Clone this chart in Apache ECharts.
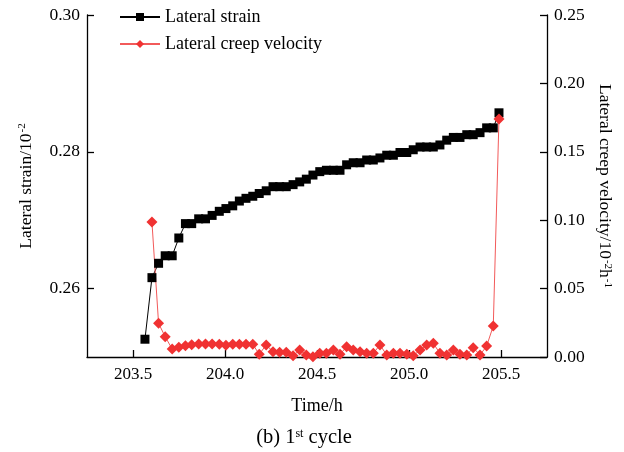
<!DOCTYPE html>
<html>
<head>
<meta charset="utf-8">
<script src="https://cdn.jsdelivr.net/npm/echarts@6/dist/echarts.min.js"></script>
<style>
  html, body { margin: 0; padding: 0; background: #fff; }
  #chart { width: 624px; height: 452px; }
</style>
</head>
<body>
<div id="chart"></div>
<script>
// Sampling times (h) of the 1st loading cycle
const timeH = [
  203.565, 203.603, 203.639, 203.675, 203.713, 203.749, 203.785, 203.819, 203.857, 203.894,
  203.930, 203.969, 204.005, 204.042, 204.078, 204.114, 204.151, 204.186, 204.224, 204.261,
  204.297, 204.333, 204.370, 204.406, 204.442, 204.478, 204.515, 204.551, 204.589, 204.625,
  204.661, 204.697, 204.734, 204.770, 204.806, 204.842, 204.879, 204.915, 204.951, 204.988,
  205.023, 205.060, 205.096, 205.132, 205.168, 205.205, 205.241, 205.277, 205.314, 205.349,
  205.386, 205.422, 205.458, 205.489
];

// Lateral strain (10^-2)
const lateralStrain = [
  0.2526, 0.2616, 0.2637, 0.2648, 0.2648, 0.2674, 0.2695, 0.2695, 0.2702, 0.2702,
  0.2707, 0.2713, 0.2717, 0.2721, 0.2728, 0.2732, 0.2735, 0.2739, 0.2743, 0.2749,
  0.2749, 0.2749, 0.2752, 0.2756, 0.2760, 0.2766, 0.2771, 0.2773, 0.2773, 0.2773,
  0.2781, 0.2784, 0.2784, 0.2788, 0.2788, 0.2791, 0.2795, 0.2795, 0.2799, 0.2799,
  0.2803, 0.2807, 0.2807, 0.2807, 0.2810, 0.2817, 0.2821, 0.2821, 0.2825, 0.2825,
  0.2828, 0.2835, 0.2835, 0.2857
];

// Lateral creep velocity (10^-2 h^-1), starting at the second sample
const creepVelocity = [
  0.0987, 0.0246, 0.0148, 0.0058, 0.0071, 0.0083, 0.0090, 0.0095, 0.0095, 0.0095,
  0.0093, 0.0086, 0.0093, 0.0093, 0.0093, 0.0093, 0.0020, 0.0088, 0.0039, 0.0034,
  0.0034, 0.0010, 0.0051, 0.0015, 0.0002, 0.0027, 0.0027, 0.0051, 0.0020, 0.0075,
  0.0051, 0.0039, 0.0027, 0.0027, 0.0088, 0.0015, 0.0027, 0.0027, 0.0020, 0.0010,
  0.0051, 0.0088, 0.0100, 0.0027, 0.0015, 0.0051, 0.0020, 0.0015, 0.0068, 0.0015,
  0.0080, 0.0227, 0.1740
];

const timeTicks = [203.5, 204.0, 204.5, 205.0, 205.5];
const strainTicks = [0.26, 0.28, 0.30];

const FONT = '"Liberation Serif", "Times New Roman", serif';
const supStyle = { fontFamily: FONT, fontSize: 11, color: '#000', verticalAlign: 'top', padding: [0, 0, 0, 1] };

const strainPairs = timeH.map((t, i) => [t, lateralStrain[i]]);
const velocityPairs = creepVelocity.map((v, i) => [timeH[i + 1], v]);

const chart = echarts.init(document.getElementById('chart'), null, { renderer: 'canvas' });

const axisLineStyle = { show: true, lineStyle: { color: '#000', width: 1.3 } };
const tickStyle = { show: true, inside: true, length: 7, lineStyle: { color: '#000', width: 1.3 } };

chart.setOption({
  animation: false,
  backgroundColor: '#fff',
  grid: { left: 87, right: 77, top: 15, bottom: 95 },
  legend: {
    orient: 'vertical',
    left: 114,
    top: 3,
    itemWidth: 40,
    itemHeight: 10,
    itemGap: 9,
    textStyle: { fontFamily: FONT, fontSize: 18, color: '#000' },
    data: ['Lateral strain', 'Lateral creep velocity']
  },
  xAxis: {
    type: 'value',
    min: 203.25,
    max: 205.75,
    name: 'Time/h',
    nameLocation: 'middle',
    nameGap: 40,
    nameTextStyle: { fontFamily: FONT, fontSize: 18, color: '#000' },
    axisLine: axisLineStyle,
    axisTick: Object.assign({}, tickStyle, { customValues: timeTicks }),
    axisLabel: {
      customValues: timeTicks,
      margin: 9,
      fontFamily: FONT, fontSize: 17, color: '#000',
      formatter: v => v.toFixed(1)
    },
    splitLine: { show: false }
  },
  yAxis: [
    {
      type: 'value',
      position: 'left',
      min: 0.25,
      max: 0.30,
      name: 'Lateral strain/10{sup|-2}',
      nameLocation: 'middle',
      nameGap: 52,
      nameTextStyle: { fontFamily: FONT, fontSize: 17.5, color: '#000', rich: { sup: supStyle } },
      axisLine: axisLineStyle,
      axisTick: Object.assign({}, tickStyle, { customValues: strainTicks }),
      axisLabel: {
        customValues: strainTicks,
        margin: 7,
        fontFamily: FONT, fontSize: 17.5, color: '#000',
        formatter: v => v.toFixed(2)
      },
      splitLine: { show: false }
    },
    {
      type: 'value',
      position: 'right',
      min: 0,
      max: 0.25,
      interval: 0.05,
      name: 'Lateral creep velocity/10{sup|-2}h{sup|-1}',
      nameLocation: 'middle',
      nameRotate: -90,
      nameGap: 46,
      nameTextStyle: { fontFamily: FONT, fontSize: 17.5, color: '#000', rich: { sup: supStyle } },
      axisLine: axisLineStyle,
      axisTick: tickStyle,
      axisLabel: {
        margin: 7,
        fontFamily: FONT, fontSize: 17.5, color: '#000',
        formatter: v => v.toFixed(2)
      },
      splitLine: { show: false }
    }
  ],
  series: [
    {
      name: 'Lateral strain',
      type: 'line',
      yAxisIndex: 0,
      data: strainPairs,
      symbol: 'rect',
      symbolSize: 9,
      showAllSymbol: true,
      itemStyle: { color: '#000' },
      lineStyle: { color: '#000', width: 1 }
    },
    {
      name: 'Lateral creep velocity',
      type: 'line',
      yAxisIndex: 1,
      data: velocityPairs,
      symbol: 'diamond',
      symbolSize: 11,
      showAllSymbol: true,
      itemStyle: { color: '#f03232' },
      lineStyle: { color: '#f25a5a', width: 1 }
    }
  ],
  graphic: [
    {
      type: 'text',
      x: 304,
      y: 438,
      style: {
        text: '(b) 1{sup|st} cycle',
        fontFamily: FONT,
        fontSize: 20.5,
        fill: '#000',
        align: 'center',
        verticalAlign: 'middle',
        rich: { sup: { fontFamily: FONT, fontSize: 12, fill: '#000', verticalAlign: 'top' } }
      }
    }
  ]
});
</script>
</body>
</html>
